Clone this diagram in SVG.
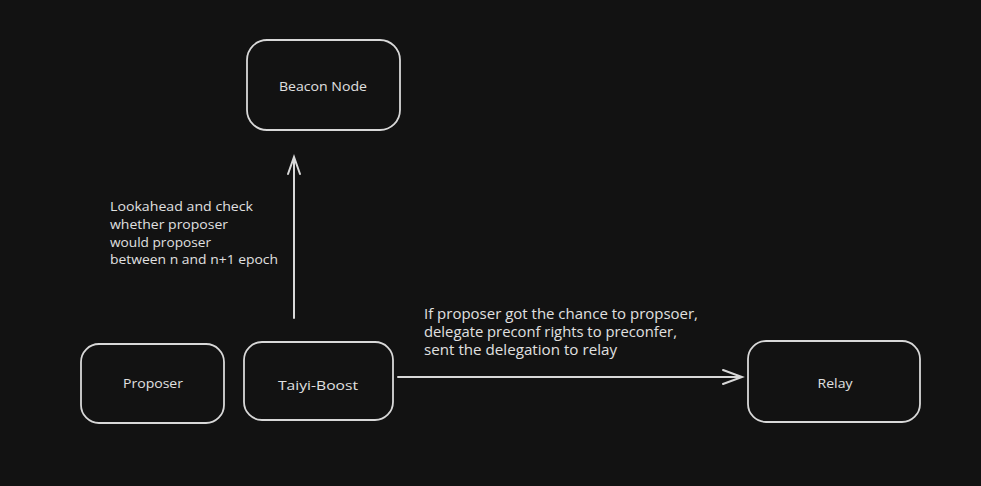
<svg xmlns="http://www.w3.org/2000/svg" width="981" height="486" viewBox="0 0 981 486">
<defs>
<style>
.box{fill:#121212;stroke:#d8d8d8;stroke-width:1.8}
.lbl{font-family:"Open Sans","Liberation Sans",sans-serif;font-size:13.5px;fill:#e0e0e0}
.big{font-size:14.5px}
.c{text-anchor:middle}
.ln{stroke:#d8d8d8;stroke-width:2;fill:none;stroke-linecap:round}
</style>
</defs>
<rect x="0" y="0" width="981" height="486" fill="#121212"/>
<g id="beacon-node">
<rect class="box" x="247" y="40" width="153" height="90" rx="20"/>
<text class="lbl c" x="323" y="91" textLength="88" lengthAdjust="spacingAndGlyphs">Beacon Node</text>
</g>
<g id="proposer">
<rect class="box" x="81" y="344" width="143" height="79" rx="18"/>
<text class="lbl c" x="153" y="388" textLength="60" lengthAdjust="spacingAndGlyphs">Proposer</text>
</g>
<g id="taiyi-boost">
<rect class="box" x="244" y="342" width="149" height="78" rx="18"/>
<text class="lbl c" x="318" y="390" textLength="80" lengthAdjust="spacingAndGlyphs">Taiyi-Boost</text>
</g>
<g id="relay">
<rect class="box" x="748" y="341" width="172" height="81" rx="18"/>
<text class="lbl c" x="835" y="388" textLength="35" lengthAdjust="spacingAndGlyphs">Relay</text>
</g>
<g id="connectors">
<path class="ln" d="M294 318 L294 157 M288 174 L294 157 L300 174"/>
<path class="ln" d="M398 377 L742 377 M723 370 L742 377 L723 384"/>
<text class="lbl" x="110" y="211" textLength="143" lengthAdjust="spacingAndGlyphs">Lookahead and check</text>
<text class="lbl" x="110" y="229" textLength="118" lengthAdjust="spacingAndGlyphs">whether proposer</text>
<text class="lbl" x="110" y="246.5" textLength="101" lengthAdjust="spacingAndGlyphs">would proposer</text>
<text class="lbl" x="110" y="264" textLength="168" lengthAdjust="spacingAndGlyphs">between n and n+1 epoch</text>
<text class="lbl big" x="424" y="319" textLength="274" lengthAdjust="spacingAndGlyphs">If proposer got the chance to propsoer,</text>
<text class="lbl big" x="424" y="337" textLength="253" lengthAdjust="spacingAndGlyphs">delegate preconf rights to preconfer,</text>
<text class="lbl big" x="424" y="354.5" textLength="193" lengthAdjust="spacingAndGlyphs">sent the delegation to relay</text>
</g>
</svg>
